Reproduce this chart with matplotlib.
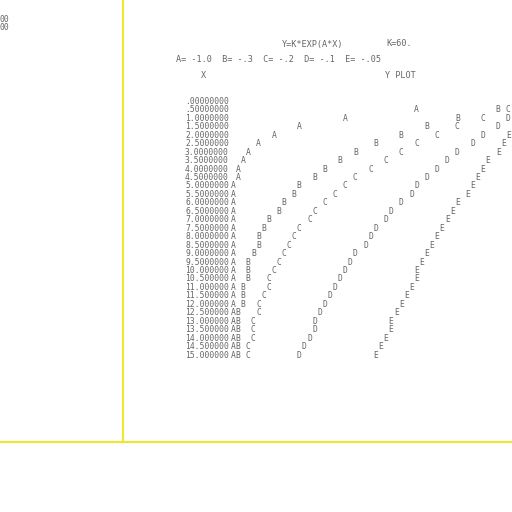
import numpy as np
import matplotlib
matplotlib.use('Agg')
import matplotlib.pyplot as plt
from matplotlib.lines import Line2D
from matplotlib.transforms import blended_transform_factory

# Listagem de impressora: Y = K*EXP(A*X), K = 60
x_vals = [0.0, 0.5, 1.0, 1.5, 2.0, 2.5, 3.0, 3.5, 4.0, 4.5, 5.0, 5.5, 6.0, 6.5, 7.0, 7.5,
          8.0, 8.5, 9.0, 9.5, 10.0, 10.5, 11.0, 11.5, 12.0, 12.5, 13.0, 13.5, 14.0, 14.5, 15.0]

serie_a = [60.00, 36.39, 22.07, 13.39, 8.12, 4.92, 2.99, 1.81, 1.10, 0.67, 0.40, 0.25, 0.15,
           0.09, 0.05, 0.03, 0.02, 0.01, 0.01, 0.00, 0.00, 0.00, 0.00, 0.00, 0.00, 0.00,
           0.00, 0.00, 0.00, 0.00, 0.00]
serie_b = [60.00, 51.64, 44.45, 38.26, 32.93, 28.34, 24.39, 21.00, 18.07, 15.55, 13.39, 11.52,
           9.92, 8.54, 7.35, 6.32, 5.44, 4.68, 4.03, 3.47, 2.99, 2.57, 2.21, 1.90, 1.64, 1.41,
           1.21, 1.04, 0.90, 0.77, 0.67]
serie_c = [60.00, 54.29, 49.12, 44.45, 40.22, 36.39, 32.93, 29.80, 26.96, 24.39, 22.07, 19.97,
           18.07, 16.35, 14.80, 13.39, 12.11, 10.96, 9.92, 8.97, 8.12, 7.35, 6.65, 6.02, 5.44,
           4.92, 4.46, 4.03, 3.65, 3.30, 2.99]
serie_d = [60.00, 57.07, 54.29, 51.64, 49.12, 46.73, 44.45, 42.28, 40.22, 38.26, 36.39, 34.62,
           32.93, 31.32, 29.80, 28.34, 26.96, 25.65, 24.39, 23.20, 22.07, 21.00, 19.97, 19.00,
           18.07, 17.19, 16.35, 15.55, 14.80, 14.08, 13.39]
serie_e = [60.00, 58.52, 57.07, 55.66, 54.29, 52.95, 51.64, 50.37, 49.12, 47.91, 46.73, 45.58,
           44.45, 43.35, 42.28, 41.24, 40.22, 39.23, 38.26, 37.32, 36.39, 35.50, 34.62, 33.76,
           32.93, 32.12, 31.32, 30.55, 29.80, 29.06, 28.34]

letras = ['A', 'B', 'C', 'D', 'E']
series = [serie_a, serie_b, serie_c, serie_d, serie_e]

fonte = 'DejaVu Sans Mono'
tam = 5.8
tam_cab = 6.1
cor_txt = '#666666'
amarelo = '#f0e62e'


def rotulo_x(x):
    # formato da impressora: 9 caracteres
    if x < 1:
        return f"{x:.8f}"[1:]
    if x < 10:
        return f"{x:.7f}"
    return f"{x:.6f}"


fig = plt.figure(figsize=(5.12, 5.12), dpi=100)
fig.patch.set_facecolor('white')

# area do grafico (a coluna 60 fica fora da pagina, a direita)
ax = fig.add_axes([233 / 512, 1 - 355 / 512, 60 * 5.1 / 512, 253.5 / 512])
ax.set_xlim(0, 60)
ax.set_ylim(15, 0)
ax.axis('off')

# letras nas colunas da impressora
for letra, vals in zip(letras, series):
    for x, y in zip(x_vals, vals):
        ax.text(np.round(y), x, letra, ha='center', va='center',
                family=fonte, fontsize=tam, color=cor_txt)

# coluna dos valores de X
trans = blended_transform_factory(fig.transFigure, ax.transData)
for x in x_vals:
    ax.text(185 / 512, x, rotulo_x(x), transform=trans, ha='left', va='center',
            family=fonte, fontsize=tam, color=cor_txt)

# cabecalho
fig.text(282 / 512, 1 - 44 / 512, 'Y=K*EXP(A*X)', ha='left', va='center',
         family=fonte, fontsize=tam_cab, color=cor_txt)
fig.text(386 / 512, 1 - 44 / 512, 'K=60.', ha='left', va='center',
         family=fonte, fontsize=tam_cab, color=cor_txt)
fig.text(176 / 512, 1 - 60 / 512, 'A= -1.0  B= -.3  C= -.2  D= -.1  E= -.05', ha='left',
         va='center', family=fonte, fontsize=tam_cab, color=cor_txt)
fig.text(201 / 512, 1 - 76 / 512, 'X', ha='left', va='center',
         family=fonte, fontsize=tam_cab, color=cor_txt)
fig.text(385 / 512, 1 - 76 / 512, 'Y PLOT', ha='left', va='center',
         family=fonte, fontsize=tam_cab, color=cor_txt)

# resto da pagina anterior
fig.text(0, 1 - 19 / 512, '00', ha='left', va='center', family=fonte, fontsize=tam, color=cor_txt)
fig.text(0, 1 - 27 / 512, '00', ha='left', va='center', family=fonte, fontsize=tam, color=cor_txt)

# linhas amarelas da folha
fig.add_artist(Line2D([123 / 512, 123 / 512], [1, 1 - 442 / 512], transform=fig.transFigure,
                      color=amarelo, lw=1.5))
fig.add_artist(Line2D([0, 1], [1 - 442 / 512, 1 - 442 / 512], transform=fig.transFigure,
                      color=amarelo, lw=1.5))

fig.savefig('out.png', dpi=100, facecolor='white')
